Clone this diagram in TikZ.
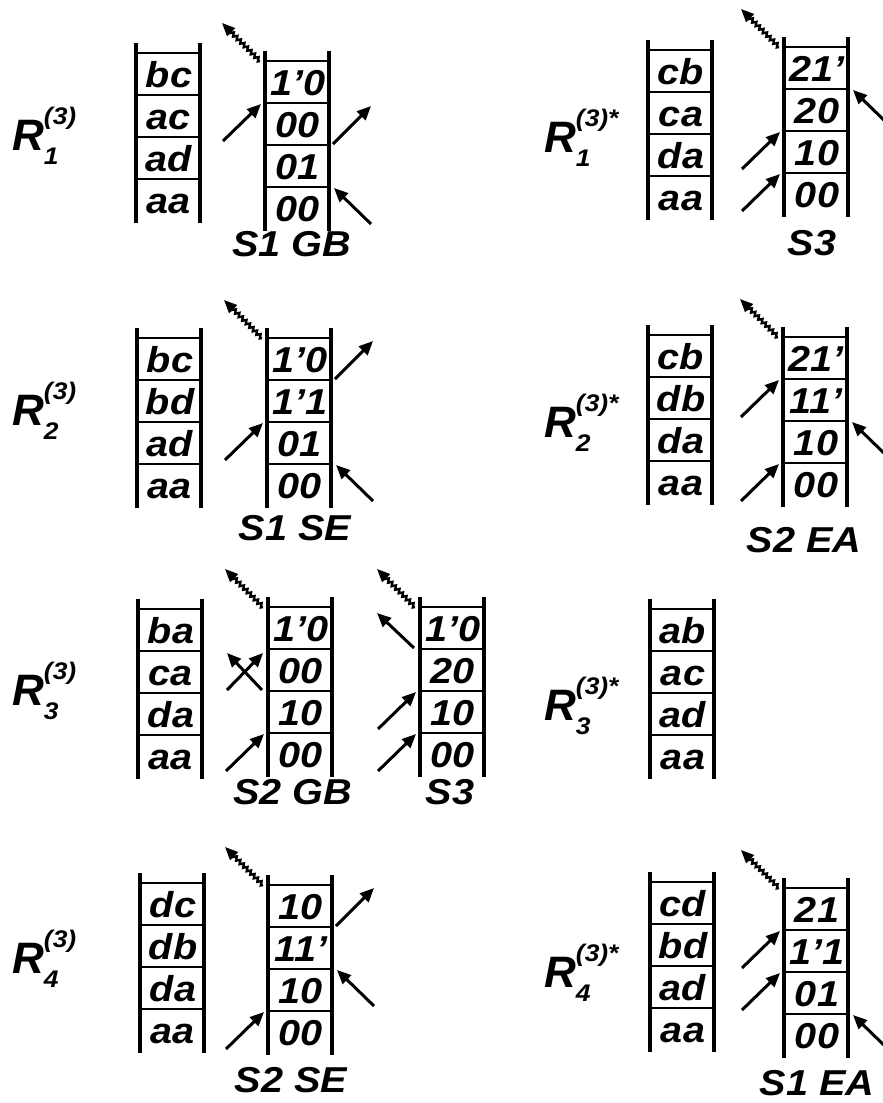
\documentclass[tikz,border=0pt]{standalone}
\usepackage{fontspec}
\usepackage{tikz}
\usetikzlibrary{arrows.meta, decorations.pathmorphing, calc}
\newfontfamily\cellfont[FakeStretch=1.1]{Liberation Sans}
\newfontfamily\rfont{Liberation Sans}
\newcommand{\scriptf}{\cellfont\fontsize{24bp}{24bp}\selectfont}
\newcommand{\rname}[2]{R\makebox[0pt][l]{\raisebox{26bp}{\scriptf(3)#2}}\raisebox{-14bp}{\scriptf #1}}
% ladder: name, left rail x, top bar y, four entries from the top
\newcommand{\ladder}[7]{
  \coordinate (#1-Lt) at (#2,#3-10);
  \coordinate (#1-Rt) at (#2+64,#3-10);
  \coordinate (#1-Lb) at (#2,#3+170);
  \coordinate (#1-Rb) at (#2+64,#3+170);
  \foreach \k in {0,...,3} {
    \coordinate (#1-L\k) at (#2,#3+42*\k);
    \coordinate (#1-R\k) at (#2+64,#3+42*\k);
    \draw[rung] (#1-L\k) -- (#1-R\k);
  }
  \draw[rail] (#1-Lt) -- (#1-Lb);
  \draw[rail] (#1-Rt) -- (#1-Rb);
  \foreach \k/\t in {1/#4,2/#5,3/#6,4/#7}
    \node[entry] (#1-c\k) at (#2+33,#3+42*\k-8) {\t};
}

\begin{document}
\begin{tikzpicture}[
  x=1bp, y=-1bp,
  rail/.style={line width=3.8bp},
  rung/.style={line width=2.8bp},
  entry/.style={anchor=base, inner sep=0pt, font=\cellfont\bfseries\itshape\fontsize{36bp}{36bp}\selectfont},
  sname/.style={inner sep=0pt, font=\cellfont\bfseries\itshape\fontsize{36bp}{36bp}\selectfont},
  rlbl/.style={anchor=base west, inner sep=0pt, font=\rfont\bfseries\itshape\fontsize{44bp}{44bp}\selectfont},
  arr/.style={line width=3bp, -{Triangle[length=14bp,width=12bp]}},
  wavy/.style={line width=2.4bp, -{Triangle[length=13bp,width=11bp]}, decorate,
    decoration={zigzag, segment length=5bp, amplitude=1.8bp, post length=11bp}}
  ]
  \useasboundingbox (0,0) rectangle (883,1103);
  % row 1
  \node[rlbl] (r1) at (12,150) {\rname{1}{}};
  \ladder{A1}{136}{53}{bc}{ac}{ad}{aa}
  \ladder{B1}{265}{61}{1’0}{00}{01}{00}
  \node[sname] (s-B1) at (292,244) {S1 GB};
  \draw[wavy] ($(B1-L0)+(-5,0)$) -- ($(B1-L0)+(-43,-38)$);
  \draw[arr] ($(B1-L1)+(-42,38)$) -- ($(B1-L1)+(-4,1)$);
  \draw[arr] ($(B1-R2)+(4,-1)$) -- ($(B1-R2)+(42,-39)$);
  \draw[arr] ($(B1-R3)+(42,37)$) -- ($(B1-R3)+(5,1)$);
  \node[rlbl] (r1s) at (544,152) {\rname{1}{*}};
  \ladder{C1}{648}{50}{cb}{ca}{da}{aa}
  \ladder{D1}{784}{47}{21’}{20}{10}{00}
  \node[sname] (s-D1) at (812,243) {S3};
  \draw[wavy] ($(D1-L0)+(-5,0)$) -- ($(D1-L0)+(-43,-38)$);
  \draw[arr] ($(D1-L2)+(-42,38)$) -- ($(D1-L2)+(-4,1)$);
  \draw[arr] ($(D1-L3)+(-42,38)$) -- ($(D1-L3)+(-4,1)$);
  \draw[arr] ($(D1-R1)+(42,37)$) -- ($(D1-R1)+(5,1)$);
  % row 2
  \node[rlbl] (r2) at (12,425) {\rname{2}{}};
  \ladder{A2}{137}{338}{bc}{bd}{ad}{aa}
  \ladder{B2}{267}{338}{1’0}{1’1}{01}{00}
  \node[sname] (s-B2) at (295,528) {S1 SE};
  \draw[wavy] ($(B2-L0)+(-5,0)$) -- ($(B2-L0)+(-43,-38)$);
  \draw[arr] ($(B2-R1)+(4,-1)$) -- ($(B2-R1)+(42,-39)$);
  \draw[arr] ($(B2-L2)+(-42,38)$) -- ($(B2-L2)+(-4,1)$);
  \draw[arr] ($(B2-R3)+(42,37)$) -- ($(B2-R3)+(5,1)$);
  \node[rlbl] (r2s) at (544,437) {\rname{2}{*}};
  \ladder{C2}{648}{335}{cb}{db}{da}{aa}
  \ladder{D2}{783}{337}{21’}{11’}{10}{00}
  \node[sname] (s-D2) at (804,540) {S2 EA};
  \draw[wavy] ($(D2-L0)+(-5,0)$) -- ($(D2-L0)+(-43,-38)$);
  \draw[arr] ($(D2-L1)+(-42,38)$) -- ($(D2-L1)+(-4,1)$);
  \draw[arr] ($(D2-L3)+(-42,38)$) -- ($(D2-L3)+(-4,1)$);
  \draw[arr] ($(D2-R2)+(42,37)$) -- ($(D2-R2)+(5,1)$);
  % row 3
  \node[rlbl] (r3) at (12,705) {\rname{3}{}};
  \ladder{A3}{138}{609}{ba}{ca}{da}{aa}
  \ladder{B3}{268}{607}{1’0}{00}{10}{00}
  \node[sname] (s-B3) at (293,792) {S2 GB};
  \draw[wavy] ($(B3-L0)+(-5,0)$) -- ($(B3-L0)+(-43,-38)$);
  \draw[arr] ($(B3-L2)+(-41,-1)$) -- ($(B3-L1)+(-5,4)$);
  \draw[arr] ($(B3-L2)+(-6,-1)$) -- ($(B3-L1)+(-41,4)$);
  \draw[arr] ($(B3-L3)+(-42,38)$) -- ($(B3-L3)+(-4,1)$);
  \ladder{E3}{420}{607}{1’0}{20}{10}{00}
  \node[sname] (s-E3) at (450,792) {S3};
  \draw[wavy] ($(E3-L0)+(-5,0)$) -- ($(E3-L0)+(-43,-38)$);
  \draw[arr] ($(E3-L1)+(-6,-1)$) -- ($(E3-L1)+(-43,-36)$);
  \draw[arr] ($(E3-L2)+(-42,38)$) -- ($(E3-L2)+(-4,1)$);
  \draw[arr] ($(E3-L3)+(-42,38)$) -- ($(E3-L3)+(-4,1)$);
  \node[rlbl] (r3s) at (544,720) {\rname{3}{*}};
  \ladder{C3}{650}{609}{ab}{ac}{ad}{aa}
  % row 4
  \node[rlbl] (r4) at (12,973) {\rname{4}{}};
  \ladder{A4}{140}{883}{dc}{db}{da}{aa}
  \ladder{B4}{268}{885}{10}{11’}{10}{00}
  \node[sname] (s-B4) at (291,1080) {S2 SE};
  \draw[wavy] ($(B4-L0)+(-5,0)$) -- ($(B4-L0)+(-43,-38)$);
  \draw[arr] ($(B4-R1)+(4,-1)$) -- ($(B4-R1)+(42,-39)$);
  \draw[arr] ($(B4-R2)+(42,37)$) -- ($(B4-R2)+(5,1)$);
  \draw[arr] ($(B4-L3)+(-42,38)$) -- ($(B4-L3)+(-4,1)$);
  \node[rlbl] (r4s) at (544,987) {\rname{4}{*}};
  \ladder{C4}{650}{882}{cd}{bd}{ad}{aa}
  \ladder{D4}{784}{888}{21}{1’1}{01}{00}
  \node[sname] (s-D4) at (817,1083) {S1 EA};
  \draw[wavy] ($(D4-L0)+(-5,0)$) -- ($(D4-L0)+(-43,-38)$);
  \draw[arr] ($(D4-L1)+(-42,38)$) -- ($(D4-L1)+(-4,1)$);
  \draw[arr] ($(D4-L2)+(-42,38)$) -- ($(D4-L2)+(-4,1)$);
  \draw[arr] ($(D4-R3)+(42,37)$) -- ($(D4-R3)+(5,1)$);
\end{tikzpicture}
\end{document}
